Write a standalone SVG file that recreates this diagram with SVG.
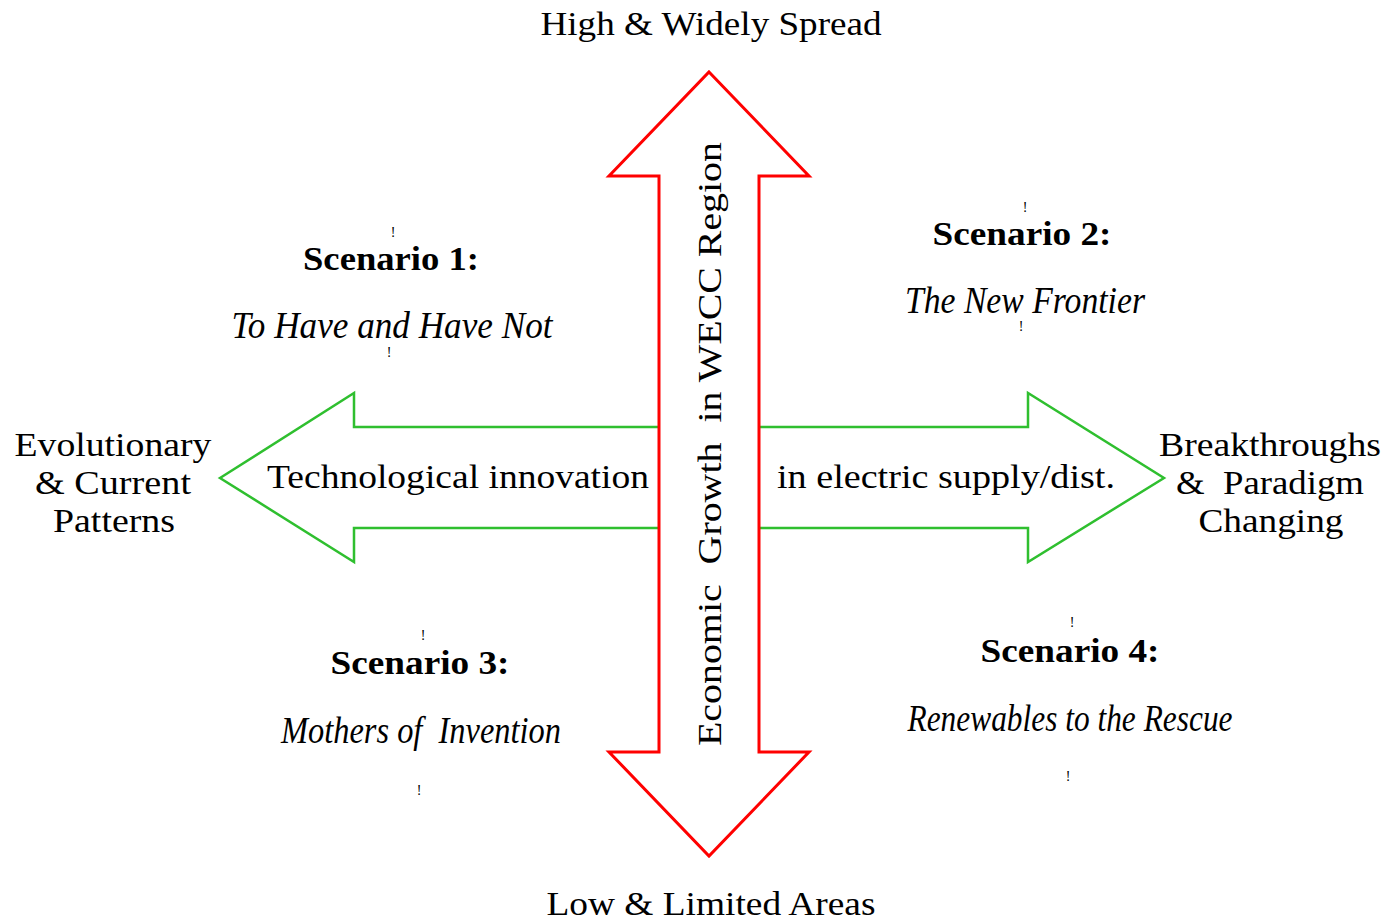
<svg xmlns="http://www.w3.org/2000/svg" width="1389" height="921" viewBox="0 0 1389 921">
<style>
text{font-family:"Liberation Serif","Times New Roman",serif;fill:#000;text-anchor:middle;white-space:pre}
.r{font-size:34px}
.b{font-size:34px;font-weight:bold}
.i{font-size:37px;font-style:italic}
.m{font-size:14px}
</style>
<rect width="1389" height="921" fill="#fff"/>
<g id="connectors">
<polygon id="horizontal-arrow" points="220,478 354,393 354,427 1028,427 1028,393 1164,478 1028,562 1028,528 354,528 354,562" fill="#fff" stroke="#2fbf2f" stroke-width="2.5" stroke-linejoin="miter"/>
<polygon id="vertical-arrow" points="709,72 809,176 759,176 759,752 809,752 709,856 609,752 659,752 659,176 609,176" fill="#fff" stroke="#ff0000" stroke-width="3" stroke-linejoin="miter"/>
</g>
<g id="axis-labels">
<text class="r" x="711" y="35" textLength="341" lengthAdjust="spacingAndGlyphs">High &amp; Widely Spread</text>
<text class="r" x="711" y="915" textLength="329" lengthAdjust="spacingAndGlyphs">Low &amp; Limited Areas</text>
<text class="r" x="458" y="488" textLength="382" lengthAdjust="spacingAndGlyphs">Technological innovation</text>
<text class="r" x="946" y="488" textLength="338" lengthAdjust="spacingAndGlyphs">in electric supply/dist.</text>
<text class="r" transform="translate(721,444) rotate(-90)" x="0" y="0" textLength="604" lengthAdjust="spacingAndGlyphs">Economic  Growth  in WECC Region</text>
</g>
<g id="left-label">
<text class="r" x="113" y="456" textLength="197" lengthAdjust="spacingAndGlyphs">Evolutionary</text>
<text class="r" x="113" y="494" textLength="156" lengthAdjust="spacingAndGlyphs">&amp; Current</text>
<text class="r" x="114" y="532" textLength="122" lengthAdjust="spacingAndGlyphs">Patterns</text>
</g>
<g id="right-label">
<text class="r" x="1270" y="456" textLength="222" lengthAdjust="spacingAndGlyphs">Breakthroughs</text>
<text class="r" x="1270" y="494" textLength="188" lengthAdjust="spacingAndGlyphs">&amp;  Paradigm</text>
<text class="r" x="1271" y="532" textLength="145" lengthAdjust="spacingAndGlyphs">Changing</text>
</g>
<g id="scenario-1">
<text class="m" x="393" y="237">!</text>
<text class="b" x="391" y="270" textLength="176" lengthAdjust="spacingAndGlyphs">Scenario 1:</text>
<text class="i" x="392" y="338" textLength="321" lengthAdjust="spacingAndGlyphs">To Have and Have Not</text>
<text class="m" x="389" y="357">!</text>
</g>
<g id="scenario-2">
<text class="m" x="1025" y="212">!</text>
<text class="b" x="1022" y="245" textLength="179" lengthAdjust="spacingAndGlyphs">Scenario 2:</text>
<text class="i" x="1025" y="313" textLength="240" lengthAdjust="spacingAndGlyphs">The New Frontier</text>
<text class="m" x="1021" y="331">!</text>
</g>
<g id="scenario-3">
<text class="m" x="423" y="640">!</text>
<text class="b" x="420" y="674" textLength="179" lengthAdjust="spacingAndGlyphs">Scenario 3:</text>
<text class="i" x="421" y="743" textLength="280" lengthAdjust="spacingAndGlyphs">Mothers of  Invention</text>
<text class="m" x="419" y="795">!</text>
</g>
<g id="scenario-4">
<text class="m" x="1072" y="627">!</text>
<text class="b" x="1070" y="662" textLength="179" lengthAdjust="spacingAndGlyphs">Scenario 4:</text>
<text class="i" x="1070" y="731" textLength="325" lengthAdjust="spacingAndGlyphs">Renewables to the Rescue</text>
<text class="m" x="1068" y="781">!</text>
</g>
</svg>
